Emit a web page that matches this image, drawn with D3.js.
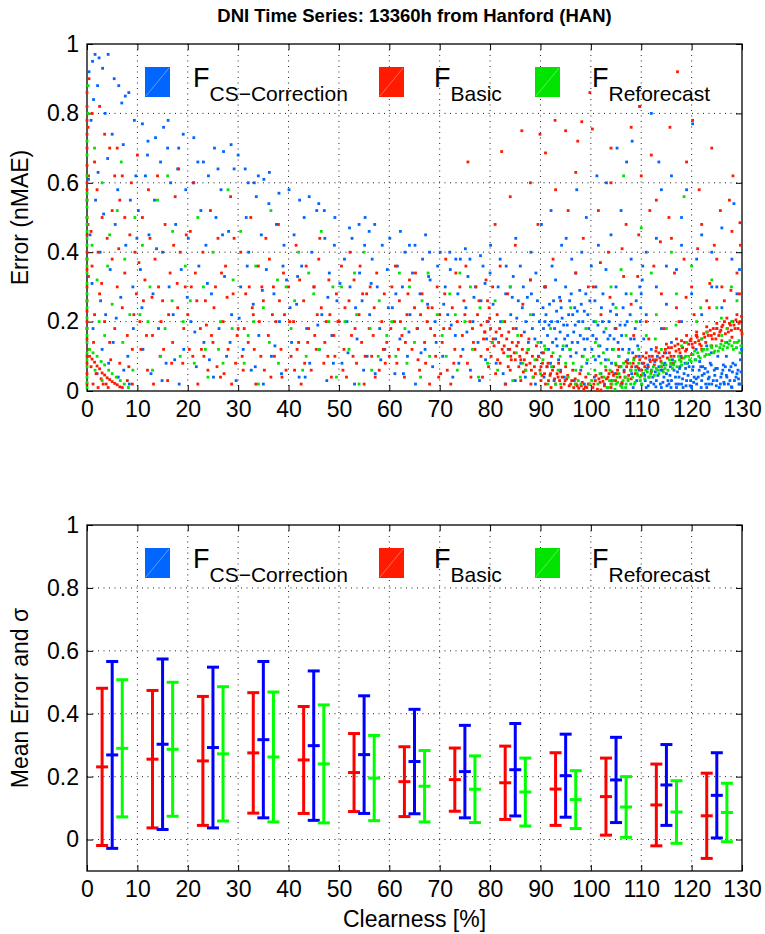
<!DOCTYPE html>
<html>
<head>
<meta charset="utf-8">
<script src="https://cdn.jsdelivr.net/npm/d3@7"></script>
<style>
  body { margin: 0; background: #fff; }
  text { font-family: "Liberation Sans", Arial, Helvetica, sans-serif; fill: #000; }
</style>
</head>
<body>
<svg id="fig" width="765" height="934"></svg>
<script>
// ---------- data ----------
const titleText = "DNI Time Series: 13360h from Hanford (HAN)";
const seriesKeys = ["CS\u2212Correction", "Basic", "Reforecast"];
const xTicks = [0, 10, 20, 30, 40, 50, 60, 70, 80, 90, 100, 110, 120, 130];
const yTicks = [0, 0.2, 0.4, 0.6, 0.8, 1];
const yTickLabels = ["0", "0.2", "0.4", "0.6", "0.8", "1"];

// clearness bins (centre of each 10 % bin)
const binCenters = [5, 15, 25, 35, 45, 55, 65, 75, 85, 95, 105, 115, 125];
const meanCS    = [0.269, 0.303, 0.2925, 0.3175, 0.2985, 0.270, 0.248, 0.216, 0.222, 0.203, 0.1895, 0.1735, 0.1405];
const sigmaCS   = [0.297, 0.271, 0.2555, 0.2485, 0.2375, 0.187, 0.166, 0.147, 0.147, 0.132, 0.1355, 0.1285, 0.1355];
const meanBasic = [0.231, 0.2555, 0.250, 0.2755, 0.253, 0.213, 0.184, 0.1905, 0.1805, 0.1605, 0.1365, 0.110, 0.0755];
const sigmaBasic= [0.250, 0.2185, 0.205, 0.1915, 0.170, 0.124, 0.111, 0.1005, 0.1165, 0.1155, 0.1225, 0.130, 0.1355];
const meanRef   = [0.290, 0.287, 0.2725, 0.2625, 0.2405, 0.1955, 0.1695, 0.160, 0.151, 0.127, 0.1035, 0.0875, 0.086];
const sigmaRef  = [0.218, 0.213, 0.2135, 0.2065, 0.1875, 0.1355, 0.1135, 0.106, 0.108, 0.092, 0.0965, 0.0995, 0.093];

// per-hour error samples: [clearness %, nMAE]
const errCS = [
[0.4,.92],[1.1,.95],[1.6,.97],[2.4,.96],[3.1,.93],[4.2,.97],[5.4,.90],[6.3,.88],[7.6,.85],[8.3,.86],[6.9,.83],[2.1,.88],[1.3,.84],[3.6,.80],[9.4,.78],[5.0,.74],[0.8,.78],
[0.3,.61],[0.6,.45],[1.0,.31],[1.7,.55],[2.2,.63],[2.6,.40],[3.3,.51],[3.7,.22],[4.1,.67],[4.6,.35],[5.2,.14],[5.6,.48],[6.1,.58],[6.7,.27],[7.2,.71],[7.7,.42],[8.1,.10],[8.6,.55],[9.1,.30],[9.7,.62],[2.0,.05],[4.3,.08],[6.2,.04],[8.4,.02],[9.2,.18],[1.2,.18],[3.0,.12],
[11.0,.77],[12.1,.72],[13.6,.73],[15.2,.76],[16.1,.78],[18.2,.70],[19.1,.74],[10.2,.52],[10.6,.35],[11.1,.12],[11.6,.62],[12.3,.45],[12.7,.05],[13.1,.28],[13.4,.55],[14.2,.18],[14.6,.66],[15.0,.40],[15.7,.08],[16.3,.30],[16.6,.60],[17.1,.22],[17.6,.48],[18.3,.02],[18.7,.35],[19.2,.12],[19.6,.58],[12.0,.68],[16.0,.70],[18.0,.64],
[21.2,.73],[23.1,.66],[25.3,.70],[27.1,.69],[28.6,.71],[20.1,.44],[20.6,.20],[21.1,.60],[21.7,.07],[22.2,.36],[22.6,.52],[23.2,.14],[23.6,.42],[24.1,.62],[24.7,.28],[25.1,.04],[25.6,.50],[26.2,.18],[26.6,.58],[27.3,.33],[27.7,.10],[28.1,.46],[28.7,.22],[29.2,.64],[29.6,.03],[22.0,.66],[26.0,.64],
[30.0,.68],[31.4,.64],[33.2,.60],[35.1,.61],[36.2,.63],[38.1,.57],[30.5,.30],[31.0,.12],[31.6,.50],[32.1,.40],[32.6,.06],[33.0,.25],[33.6,.56],[34.1,.16],[34.6,.45],[35.0,.02],[35.6,.35],[36.1,.54],[36.6,.10],[37.1,.28],[37.6,.48],[38.2,.20],[38.6,.05],[39.1,.42],[39.6,.32],[34.0,.62],[32.0,.60],
[40.1,.58],[42.2,.55],[44.1,.56],[47.1,.52],[49.2,.50],[40.6,.14],[41.1,.45],[41.6,.25],[42.1,.04],[42.6,.36],[43.1,.50],[43.6,.18],[44.2,.08],[44.6,.40],[45.1,.30],[45.6,.52],[46.1,.12],[46.6,.22],[47.2,.44],[47.6,.03],[48.1,.34],[48.6,.16],[49.1,.42],[49.6,.26],[46.0,.54],
[52.1,.47],[55.2,.50],[57.1,.48],[50.6,.08],[51.1,.38],[51.6,.20],[52.2,.30],[52.6,.44],[53.1,.02],[53.6,.15],[54.1,.34],[54.6,.26],[55.1,.42],[55.6,.10],[56.1,.22],[56.6,.38],[57.2,.05],[57.6,.30],[58.1,.18],[58.6,.42],[59.1,.12],[59.6,.35],[56.0,.46],[54.0,.48],
[60.1,.44],[62.2,.46],[65.1,.42],[67.2,.45],[60.6,.24],[61.1,.05],[61.6,.36],[62.1,.15],[62.6,.30],[63.1,.40],[63.6,.10],[64.1,.22],[64.6,.34],[65.2,.02],[65.6,.18],[66.1,.28],[66.6,.38],[67.1,.12],[67.6,.25],[68.1,.32],[68.6,.07],[69.1,.20],[69.6,.36],[64.0,.42],[68.0,.40],
[70.1,.40],[73.2,.38],[75.1,.41],[78.1,.39],[70.6,.10],[71.1,.30],[71.6,.22],[72.1,.35],[72.6,.04],[73.1,.16],[73.6,.28],[74.1,.38],[74.6,.12],[75.2,.24],[75.6,.33],[76.1,.06],[76.6,.20],[77.1,.30],[77.6,.14],[78.2,.26],[78.6,.36],[79.1,.09],[79.6,.20],[72.0,.40],[76.0,.38],[79.0,.31],
[2.7,.26],[5.8,.21],[7.3,.06],[9.9,.44],[10.9,.24],[13.8,.41],[14.9,.03],[17.4,.09],[19.9,.27],[21.4,.17],[23.9,.31],[24.3,.09],[26.9,.45],[28.4,.14],[30.2,.21],[31.8,.36],[33.4,.07],[34.8,.29],[37.3,.13],[38.9,.36],[40.3,.24],[41.8,.33],[43.3,.04],[45.8,.19],[47.8,.27],[48.9,.08],[50.2,.31],[51.8,.11],[53.3,.24],[54.9,.06],[56.4,.31],[58.3,.09],[59.8,.24],[61.3,.28],[62.8,.05],[63.9,.17],[66.3,.11],[67.8,.33],[69.3,.14],[70.8,.25],[72.3,.19],[73.8,.08],[75.4,.17],[76.8,.27],[77.9,.03],[79.3,.15],
[80.1,.42],[83.2,.36],[85.1,.44],[88.1,.40],[80.6,.25],[81.1,.15],[81.6,.30],[82.1,.20],[82.6,.05],[83.1,.28],[83.6,.12],[84.1,.22],[84.6,.33],[85.2,.18],[85.6,.26],[86.1,.08],[86.6,.30],[87.1,.20],[87.6,.14],[88.2,.28],[88.6,.22],[89.1,.34],[89.6,.10],[80.0,.34],[82.0,.38],[84.0,.30],[86.0,.36],[88.0,.32],[81.2,.08],[83.0,.02],[85.0,.03],[87.0,.04],[89.0,.02],[84.4,.27],[86.4,.24],[88.4,.18],[89.4,.26],
[90.2,.48],[92.1,.52],[95.1,.44],[97.2,.58],[99.1,.50],[90.6,.18],[91.1,.22],[91.6,.12],[92.2,.20],[92.6,.26],[93.1,.15],[93.6,.09],[94.1,.24],[94.6,.19],[95.2,.13],[95.6,.22],[96.1,.28],[96.6,.17],[97.1,.11],[97.6,.20],[98.1,.25],[98.6,.15],[99.2,.08],[99.6,.18],[90.1,.14],[91.0,.30],[92.0,.08],[93.0,.32],[94.0,.06],[95.0,.30],[96.0,.10],[97.0,.34],[98.0,.06],[99.0,.28],[91.4,.16],[93.4,.20],[95.4,.16],[97.4,.14],[99.4,.22],[92.4,.14],[94.4,.12],[96.4,.22],[98.4,.20],[90.5,.24],[96.2,.38],[94.2,.42],[98.2,.40],[92.3,.36],[93.8,.27],[95.8,.26],[97.8,.29],[91.8,.25],[90.8,.30],[93.2,.23],[96.8,.24],[98.8,.12],
[85.3,.21],[86.8,.17],[87.4,.27],[88.9,.15],[89.8,.20],[90.3,.11],[90.9,.20],[91.3,.07],[91.7,.19],[92.8,.18],[93.3,.13],[93.9,.17],[94.3,.21],[94.8,.15],[95.3,.19],[95.9,.12],[96.3,.14],[96.9,.19],[97.3,.23],[97.9,.16],[98.3,.10],[98.7,.23],[99.3,.15],[99.8,.26],[100.4,.16],[100.9,.09],[101.4,.19],[101.8,.13],[102.3,.20],[102.9,.09],[103.4,.15],[103.9,.23],[104.3,.12],[104.8,.18],[105.4,.14],[105.9,.07],[106.3,.12],[106.8,.19],[107.3,.09],[107.9,.15],[108.3,.11],[108.9,.07],[109.3,.13],[109.6,.06],[90.7,.04],[92.7,.03],[94.7,.04],[96.7,.03],[98.7,.02],[100.7,.04],[102.7,.02],[104.7,.05],
[100.1,.36],[101.2,.62],[103.1,.60],[105.2,.70],[107.1,.66],[108.2,.72],[100.6,.20],[101.1,.15],[101.6,.10],[102.1,.24],[102.6,.17],[103.2,.12],[103.6,.20],[104.1,.08],[104.6,.15],[105.1,.22],[105.6,.10],[106.1,.16],[106.6,.06],[107.2,.20],[107.6,.12],[108.1,.05],[108.6,.15],[109.1,.03],[109.6,.10],[100.2,.12],[101.0,.30],[103.0,.35],[105.0,.30],[107.0,.28],[109.0,.26],[101.5,.42],[104.0,.45],[106.0,.52],[108.0,.38],[102.0,.05],[104.2,.03],[106.2,.02],[108.4,.01],[100.8,.26],[102.4,.28],[104.4,.25],[106.4,.24],[108.8,.18],[103.8,.16],[105.8,.19],[107.8,.22],[109.8,.20],[109.9,.24],[110.0,.28],[110.2,.32],[110.3,.36],[109.7,.30],
[110.1,.02],[110.5,.05],[111.0,.01],[111.5,.04],[112.0,.06],[112.5,.02],[113.0,.03],[113.5,.07],[114.0,.01],[114.5,.04],[115.0,.05],[115.5,.02],[116.0,.03],[116.5,.06],[117.0,.01],[117.5,.04],[118.0,.02],[118.5,.05],[119.0,.03],[119.5,.07],[120.0,.01],[120.5,.04],[121.0,.02],[121.5,.06],[122.0,.03],[122.5,.05],[123.0,.01],[123.5,.04],[124.0,.02],[124.5,.06],[125.0,.03],[125.5,.01],[126.0,.05],[126.5,.02],[127.0,.04],[127.5,.06],[128.0,.01],[128.5,.03],[129.0,.05],[129.5,.02],
[110.2,.08],[111.7,.09],[113.2,.10],[114.7,.08],[116.2,.09],[117.7,.07],[119.2,.08],[120.7,.09],[122.2,.07],[123.7,.08],[125.2,.10],[126.7,.07],[128.2,.08],[129.7,.09],[110.8,.03],[112.3,.04],[113.8,.02],[115.3,.03],[116.8,.04],[118.3,.01],[119.8,.03],[121.3,.04],[122.8,.02],[124.3,.03],[125.8,.04],[127.3,.02],[128.8,.04],
[111.2,.065],[112.8,.055],[114.2,.06],[115.8,.07],[117.2,.055],[118.8,.065],[120.2,.06],[121.8,.07],[123.2,.055],[124.8,.065],[126.2,.06],[127.8,.07],[129.2,.06],[111.4,.015],[112.9,.012],[114.3,.025],[115.9,.01],[117.4,.02],[118.9,.015],[120.4,.025],[121.9,.01],[123.4,.02],[124.9,.015],[126.4,.025],[127.9,.012],[129.4,.02],
[110.7,.045],[111.3,.075],[111.9,.025],[112.7,.085],[113.3,.045],[113.9,.06],[114.6,.075],[115.1,.015],[115.7,.045],[116.4,.08],[116.9,.02],[117.6,.065],[118.2,.035],[118.7,.08],[119.3,.045],[119.7,.015],[120.3,.07],[120.9,.035],[121.6,.085],[122.1,.045],[122.7,.065],[123.3,.035],[123.9,.075],[124.6,.045],[125.1,.065],[125.7,.02],[126.3,.075],[126.9,.045],[127.6,.03],[128.1,.055],[128.7,.075],[129.3,.035],[129.8,.055],[114.9,.11],[117.9,.10],[120.9,.12],[123.9,.11],[126.9,.10],[129.9,.12],
[110.5,.15],[111.0,.22],[112.0,.12],[113.0,.30],[114.0,.18],[115.0,.25],[116.0,.14],[117.0,.35],[118.0,.20],[119.0,.12],[120.0,.28],[121.0,.16],[122.0,.22],[123.0,.13],[124.0,.30],[125.0,.18],[126.0,.24],[127.0,.14],[128.0,.20],[129.0,.28],[111.0,.40],[113.0,.44],[115.0,.36],[118.0,.42],[121.0,.38],[125.0,.30],[128.0,.38],
[109.7,.82],[112.0,.80],[114.0,.58],[116.0,.62],[118.0,.50],[120.2,.77],[122.0,.45],[124.0,.40],[126.0,.47],[128.4,.54],[129.5,.35],[113.5,.66],[119.0,.58]
];

const errBasic = [
[0,.02],[0,.05],[0,.10],[0,.15],[0,.20],[0,.26],[0,.30],[0,.35],[0,.40],[0,.45],[0,.50],[0,.55],[0,.60],[0,.65],[0,.70],[0,.74],[0,.78],[0,.82],[0,.86],[0.2,.12],[0.3,.33],[0.2,.48],[0.3,.62],[0.2,.76],[0.4,.90],[0,.08],[0,.18],[0,.23],[0,.38],[0,.58],
[0.5,.10],[1.0,.092],[1.5,.083],[2.0,.072],[2.5,.064],[3.0,.052],[3.5,.046],[4.0,.038],[4.5,.033],[5.0,.027],[5.5,.022],[6.0,.018],[6.5,.012],[1.2,.02],[2.2,.01],[3.2,.02],[4.2,.01],[7.0,.01],[8.0,.03],[9.0,.02],[0.8,.07],[1.8,.05],[2.8,.035],[3.8,.02],
[1.0,.80],[2.5,.82],[3.5,.74],[1.5,.66],[4.5,.70],[2.0,.58],[5.5,.62],[3.0,.50],[6.5,.55],[4.0,.44],[7.5,.50],[5.0,.38],[8.5,.45],[6.0,.30],[9.5,.40],[1.0,.36],[2.5,.28],[7.0,.24],[3.5,.20],[8.0,.16],[4.5,.14],[9.0,.12],[5.5,.18],[6.5,.08],[1.5,.22],[7.5,.34],[8.8,.60],[9.8,.28],[0.8,.46],[2.2,.40],[5.0,.52],[6.0,.70],[7.0,.62],
[10.0,.68],[10.5,.20],[11.0,.50],[11.5,.32],[12.0,.06],[12.5,.44],[13.0,.16],[13.5,.38],[14.0,.62],[14.5,.10],[15.0,.26],[15.5,.48],[16.0,.03],[16.5,.34],[17.0,.14],[17.5,.56],[18.0,.24],[18.5,.40],[19.0,.08],[19.5,.30],[11.2,.26],[13.2,.02],[15.2,.12],[17.2,.42],[19.2,.18],[12.2,.58],[16.2,.22],[18.2,.64],[10.7,.12],[14.2,.30],
[20.0,.22],[20.5,.46],[21.0,.10],[21.5,.34],[22.0,.02],[22.5,.18],[23.0,.40],[23.5,.26],[24.0,.06],[24.5,.52],[25.0,.14],[25.5,.30],[26.0,.44],[26.5,.04],[27.0,.20],[27.5,.36],[28.0,.12],[28.5,.56],[29.0,.28],[29.5,.08],[21.2,.60],[23.2,.10],[25.2,.24],[27.2,.05],[29.2,.44],[20.7,.30],[22.7,.12],[24.7,.16],[26.7,.34],[28.7,.02],
[30.0,.18],[30.5,.40],[31.0,.06],[31.5,.28],[32.0,.14],[32.5,.50],[33.0,.22],[33.5,.02],[34.0,.36],[34.5,.10],[35.0,.26],[35.5,.44],[36.0,.16],[36.5,.04],[37.0,.30],[37.5,.20],[38.0,.48],[38.5,.12],[39.0,.34],[39.5,.06],[31.2,.18],[33.2,.12],[35.2,.06],[37.2,.10],[39.2,.22],[32.2,.30],[36.2,.38],[38.2,.26],[34.2,.20],
[40.0,.30],[40.5,.10],[41.0,.20],[41.5,.42],[42.0,.14],[42.5,.02],[43.0,.26],[43.5,.36],[44.0,.18],[44.5,.06],[45.0,.30],[45.5,.12],[46.0,.38],[46.5,.24],[47.0,.08],[47.5,.20],[48.0,.32],[48.5,.04],[49.0,.16],[49.5,.28],[41.2,.06],[43.2,.08],[45.2,.16],[47.2,.14],[49.2,.10],[42.2,.32],[46.2,.44],[48.2,.22],
[50.0,.20],[50.5,.36],[51.0,.12],[51.5,.04],[52.0,.26],[52.5,.16],[53.0,.32],[53.5,.08],[54.0,.22],[54.5,.14],[55.0,.02],[55.5,.28],[56.0,.18],[56.5,.10],[57.0,.24],[57.5,.34],[58.0,.06],[58.5,.20],[59.0,.28],[59.5,.14],[51.2,.24],[53.2,.18],[55.2,.10],[57.2,.04],[59.2,.08],[52.2,.40],[56.2,.30],[54.2,.36],
[60.0,.10],[60.5,.30],[61.0,.20],[61.5,.08],[62.0,.26],[62.5,.16],[63.0,.04],[63.5,.22],[64.0,.32],[64.5,.12],[65.0,.24],[65.5,.18],[66.0,.06],[66.5,.28],[67.0,.14],[67.5,.20],[68.0,.02],[68.5,.24],[69.0,.16],[69.5,.30],[61.2,.36],[63.2,.14],[65.2,.34],[67.2,.08],[69.2,.10],[62.2,.20],[66.2,.22],[68.2,.18],
[70.0,.22],[70.5,.14],[71.0,.28],[71.5,.06],[72.0,.18],[72.5,.24],[73.0,.12],[73.5,.20],[74.0,.30],[74.5,.16],[75.0,.22],[75.5,.08],[76.0,.20],[76.5,.18],[77.0,.12],[77.5,.22],[78.5,.04],[79.0,.17],[79.5,.26],[71.2,.38],[73.2,.34],[75.2,.36],[77.2,.30],[79.2,.32],[70.2,.05],[72.2,.02],[74.2,.10],[76.2,.04],[78.2,.10],[75.6,.66],
[1.3,.14],[2.9,.31],[4.7,.09],[6.3,.41],[8.3,.07],[9.3,.22],[10.3,.37],[11.8,.16],[12.9,.27],[14.7,.20],[16.8,.08],[17.9,.31],[19.7,.45],[20.3,.12],[21.8,.26],[23.7,.19],[25.8,.07],[27.8,.27],[29.8,.16],[30.8,.10],[32.8,.24],[34.7,.30],[36.8,.22],[38.7,.04],[40.2,.20],[41.7,.12],[43.8,.14],[45.7,.22],[47.8,.10],[49.8,.20],[50.8,.06],[52.8,.10],[54.7,.28],[56.8,.16],[58.8,.12],[60.3,.18],[61.8,.12],[63.7,.28],[65.7,.09],[67.7,.24],[69.8,.04],[70.8,.18],[72.8,.08],[74.8,.26],[76.7,.14],[77.8,.26],[79.7,.07],
[78.2,.19],[78.9,.17],[79.4,.20],[80.1,.18],[80.6,.15],[81.2,.17],[81.7,.14],[82.3,.16],[82.8,.13],[83.3,.15],[83.9,.12],[84.4,.14],[84.8,.11],[85.3,.13],[85.9,.10],[86.4,.12],[86.8,.09],[87.3,.11],[87.9,.08],[88.4,.10],[88.8,.07],[89.3,.09],[89.9,.06],[90.4,.08],[90.8,.05],[91.3,.07],[91.9,.045],[92.4,.06],[92.8,.035],[93.3,.05],[93.8,.03],[94.3,.04],[94.7,.02],[95.2,.035],[95.7,.015],[96.2,.03],[96.6,.01],[97.1,.02],[97.6,.008],[98.1,.015],[98.6,.005],[99.2,.01],
[78.7,.15],[79.9,.21],[80.4,.14],[81.9,.18],[82.4,.12],[83.7,.17],[84.1,.10],[85.6,.14],[86.1,.09],[87.6,.12],[88.2,.06],[89.6,.10],[90.1,.07],[91.5,.08],[92.0,.05],[92.6,.07],[93.5,.04],[94.0,.055],[94.9,.03],[95.4,.045],[96.0,.02],[96.9,.035],[97.3,.015],[98.3,.025],[98.9,.012],[99.5,.02],
[80.2,.10],[81.1,.05],[82.0,.08],[83.1,.02],[84.0,.06],[85.0,.09],[86.1,.03],[87.0,.06],[88.1,.02],[89.0,.05],[90.1,.03],[91.0,.02],[92.1,.01],[93.0,.02],[94.1,.01],[80.8,.13],[82.7,.11],[84.2,.09],[85.7,.07],[87.2,.075],[88.6,.04],[90.3,.045],[91.6,.03],[79.5,.12],[81.5,.09],[83.6,.07],[86.6,.055],
[79.8,.24],[81.4,.22],[82.9,.20],[84.6,.18],[86.2,.16],[87.7,.15],[89.2,.13],[90.6,.11],[92.2,.10],[93.6,.08],[95.0,.07],[96.4,.06],[97.8,.05],[99.0,.04],
[80.5,.30],[82.0,.36],[83.5,.28],[85.0,.42],[86.5,.25],[88.0,.32],[89.5,.48],[91.0,.30],[92.5,.38],[94.0,.26],[95.5,.52],[97.0,.34],[98.5,.44],[99.5,.30],[84.0,.56],[88.0,.60],[93.0,.58],[97.0,.63],[81.0,.48],
[86.3,.75],[92.9,.78],[89.9,.74],[95.0,.75],[82.3,.69],[97.4,.72],[99.8,.86],[100.3,.755],[108.0,.76],[117.2,.92],[115.7,.76],[120.2,.78],[109.7,.82],[98.2,.776],[91.0,.686],[128.2,.62],[129.6,.485],[104.0,.70],[112.0,.68],[124.0,.70],
[99.8,.02],[100.4,.01],[100.9,.03],[101.3,.005],[101.8,.025],[102.2,.04],[102.7,.015],[103.1,.035],[103.6,.05],[104.0,.02],[104.5,.045],[104.9,.03],[105.3,.06],[105.8,.04],[106.2,.025],[106.6,.055],[107.1,.07],[107.5,.045],[107.9,.06],[108.4,.08],[108.8,.05],[109.2,.07],[109.7,.09],[110.1,.06],[110.5,.08],[110.9,.095],[111.4,.07],[111.8,.085],[112.2,.10],[112.6,.075],[113.0,.09],[113.5,.11],[113.9,.085],[114.3,.10],[114.8,.12],[115.2,.095],[115.6,.11],[116.0,.125],[116.5,.10],[116.9,.115],[117.3,.135],[117.7,.11],[118.2,.125],[118.6,.14],[119.0,.12],[119.4,.135],[119.9,.15],[120.3,.125],[120.7,.14],[121.1,.155],[121.6,.135],[122.0,.15],[122.4,.165],[122.8,.14],[123.3,.16],[123.7,.175],[124.1,.15],[124.5,.165],[125.0,.18],[125.4,.16],[125.8,.175],[126.2,.19],[126.7,.165],[127.1,.18],[127.5,.195],[127.9,.175],[128.4,.19],[128.8,.205],[129.2,.18],[129.6,.20],[129.9,.215],
[101.0,.045],[103.0,.06],[105.0,.075],[107.0,.085],[109.0,.10],[111.0,.11],[113.0,.125],[115.0,.135],[117.0,.15],[119.0,.16],[121.0,.17],[123.0,.185],[125.0,.195],[127.0,.21],[129.0,.22],[102.0,.003],[104.0,.01],[106.0,.02],[108.0,.035],[110.0,.045],[112.0,.055],[114.0,.07],[116.0,.08],[118.0,.095],[120.0,.105],[122.0,.12],[124.0,.13],[126.0,.145],[128.0,.155],[130.0,.165],
[100.6,.02],[101.6,.035],[102.4,.028],[103.4,.04],[104.2,.055],[105.1,.05],[105.6,.07],[106.8,.04],[107.3,.08],[108.1,.07],[108.6,.095],[109.5,.065],[110.3,.10],[110.7,.07],[111.6,.10],[112.4,.09],[112.9,.115],[113.7,.095],[114.6,.11],[115.4,.125],[115.9,.10],[116.7,.13],[117.5,.12],[118.0,.145],[118.8,.115],[119.7,.145],[120.1,.135],[120.9,.16],[121.4,.145],[121.9,.13],[122.6,.155],[123.1,.17],[123.9,.16],[124.3,.18],[124.8,.15],[125.6,.17],[126.0,.185],[126.5,.20],[127.3,.17],[127.7,.19],[128.2,.20],[128.6,.18],[129.4,.195],[129.8,.175],
[100.5,.30],[102.0,.22],[103.5,.40],[105.0,.18],[106.5,.33],[108.0,.25],[109.5,.45],[111.0,.20],[112.5,.36],[114.0,.28],[115.5,.50],[117.0,.24],[118.5,.38],[120.0,.30],[121.5,.58],[123.0,.26],[124.5,.42],[126.0,.30],[127.5,.55],[129.0,.34],[101.5,.52],[104.0,.60],[107.0,.48],[110.0,.62],[113.0,.55],[116.0,.44],[119.0,.66],[122.0,.48],[125.0,.38],[128.0,.46],[105.5,.12],[108.5,.16],[111.5,.15],[114.5,.18],[117.5,.20],[120.5,.22],[123.5,.24],[126.5,.26],[129.5,.28],
[101.9,.37],[103.8,.27],[106.2,.41],[109.3,.33],[111.7,.52],[113.8,.43],[116.6,.34],[118.9,.27],[121.2,.41],[123.6,.31],[125.7,.52],[127.8,.29],[129.7,.42]
];

const errReforecast = [
[0,.01],[0,.04],[0,.07],[0,.11],[0,.14],[0,.18],[0,.21],[0,.24],[0,.28],[0,.31],[0,.34],[0,.38],[0,.42],[0,.46],[0,.50],[0,.53],[0,.57],[0,.62],[0,.68],[0,.72],[0.2,.80],[0.2,.88],[0,.025],[0,.09],[0,.16],[0,.26],[0,.36],[0,.44],[0,.48],[0,.55],
[0.5,.12],[1.2,.11],[2.0,.10],[2.8,.085],[3.5,.075],[4.3,.06],[5.0,.05],[5.8,.04],[6.6,.03],[7.4,.02],[8.2,.01],[1.6,.06],[3.0,.03],
[1.5,.70],[3.0,.60],[4.5,.45],[2.0,.32],[6.0,.52],[7.5,.38],[8.5,.22],[9.5,.50],[5.0,.25],[3.5,.16],[1.0,.42],[6.8,.66],
[11.0,.42],[12.5,.30],[14.0,.55],[15.5,.18],[17.0,.46],[18.5,.10],[19.5,.36],[13.0,.06],[16.0,.62],[10.5,.22],
[20.5,.26],[22.0,.50],[23.5,.12],[25.0,.40],[26.5,.20],[28.0,.58],[29.0,.32],[24.0,.04],[27.0,.08],
[30.5,.46],[32.0,.16],[33.5,.36],[35.0,.24],[36.5,.52],[38.0,.08],[39.5,.30],[34.0,.02],
[40.5,.18],[42.0,.40],[43.5,.10],[45.0,.28],[46.5,.46],[48.0,.20],[49.5,.04],[44.0,.34],
[50.5,.30],[52.0,.12],[53.5,.22],[55.0,.40],[56.5,.06],[58.0,.26],[59.5,.16],[54.0,.02],
[60.5,.20],[62.0,.34],[63.5,.08],[65.0,.14],[66.5,.26],[68.0,.10],[69.5,.22],[64.0,.30],
[70.5,.16],[72.0,.28],[73.5,.06],[75.0,.20],[76.5,.12],[78.0,.24],[79.5,.08],[74.0,.34],
[2.4,.20],[4.1,.36],[7.1,.14],[9.1,.06],[12.1,.20],[14.6,.10],[16.9,.26],[19.1,.20],[21.3,.08],[23.1,.30],[26.1,.12],[28.8,.18],[31.2,.08],[33.1,.20],[36.2,.14],[37.8,.32],[41.2,.26],[42.8,.06],[46.1,.12],[48.8,.30],[51.2,.20],[53.1,.34],[56.2,.18],[57.8,.10],[61.3,.10],[63.1,.18],[66.2,.04],[67.7,.34],[71.3,.10],[73.1,.22],[76.1,.30],[77.7,.04],
[80.5,.14],[81.5,.06],[82.5,.20],[83.5,.10],[84.5,.03],[85.5,.16],[86.5,.08],[87.5,.12],[88.5,.04],[89.5,.14],[90.5,.09],[91.5,.02],[92.5,.11],[93.5,.06],[94.5,.13],[95.5,.04],[96.5,.08],[97.5,.03],[98.5,.10],[99.5,.05],[81.0,.26],[84.0,.30],[88.0,.22],[92.0,.18],[96.0,.24],[99.0,.18],[86.0,.04],[90.0,.05],[94.0,.02],[98.0,.02],[91.0,.12],[95.0,.08],[97.0,.06],[93.0,.02],[99.8,.02],
[85.2,.11],[87.1,.06],[88.9,.09],[90.8,.13],[92.2,.07],[93.9,.10],[95.8,.12],[96.9,.02],[98.2,.07],[99.3,.09],[100.9,.14],[101.8,.05],[102.9,.07],[103.7,.03],[104.9,.08],[105.2,.04],[106.0,.07],[107.0,.02],[107.8,.08],[108.9,.06],[109.5,.08],[110.1,.02],[110.9,.06],[111.9,.05],[112.4,.07],[113.3,.06],[114.1,.08],[114.7,.065],[115.6,.09],[116.4,.075],[117.4,.10],[117.9,.085],[118.8,.10],[119.6,.09],[120.6,.115],[121.4,.10],[122.4,.12],[122.9,.105],[123.8,.13],[124.6,.115],[125.6,.125],[126.4,.13],[127.4,.135],[128.3,.12],[129.1,.14],[129.6,.11],[112.8,.15],[116.9,.19],[121.8,.24],[125.9,.21],[127.9,.30],
[100.2,.03],[100.8,.06],[101.4,.02],[102.0,.08],[102.6,.04],[103.2,.01],[103.8,.06],[104.4,.03],[105.0,.02],[105.6,.05],[106.2,.01],[106.8,.04],[107.4,.03],[108.0,.06],[108.6,.02],[109.2,.05],[109.8,.04],[100.5,.10],[101.5,.13],[102.5,.11],[103.5,.09],[104.5,.12],[105.5,.10],[106.5,.08],[107.5,.11],[108.5,.09],[109.5,.12],[101.0,.20],[103.0,.18],[105.0,.24],[107.0,.16],[109.0,.20],[104.0,.30],[106.0,.35],[108.0,.28],
[103.5,.01],[104.2,.02],[104.8,.005],[105.3,.025],[105.9,.015],[106.4,.03],[106.9,.01],[107.4,.035],[107.9,.02],[108.3,.04],[108.8,.025],[109.3,.045],[109.8,.03],[110.3,.05],[110.7,.035],[111.2,.055],[111.6,.04],[112.1,.06],[112.6,.045],[113.0,.065],[113.5,.05],[113.9,.07],[114.4,.055],[114.9,.075],[115.3,.06],[115.8,.08],[116.2,.065],[116.7,.085],[117.1,.07],[117.6,.09],[118.0,.075],[118.5,.095],[119.0,.08],[119.4,.10],[119.9,.085],[120.3,.105],[120.8,.09],[121.2,.11],[121.7,.095],[122.1,.115],[122.6,.10],[123.1,.12],[123.5,.105],[124.0,.125],[124.4,.11],[124.9,.13],[125.3,.115],[125.8,.135],[126.2,.12],[126.7,.14],[127.1,.125],[127.6,.145],[128.0,.13],[128.5,.14],[128.9,.125],[129.4,.145],[129.8,.13],
[111.0,.16],[113.0,.22],[115.0,.18],[117.0,.28],[119.0,.14],[121.0,.20],[123.0,.17],[125.0,.24],[127.0,.18],[129.0,.26],[112.0,.34],[116.0,.40],[120.0,.36],[124.0,.32],[114.0,.12],[118.0,.13],[122.0,.15],[126.0,.16],[128.0,.20],[110.0,.47],[118.5,.56],[106.5,.62]
];

// ---------- layout & style ----------
const W = 765, H = 934;
const frameLeft = 87, frameRight = 742;
const panels = [
  { top: 44,  bottom: 391, yDomain: [0, 1],    ylabel: "Error (nMAE)" },
  { top: 525, bottom: 871, yDomain: [-0.1, 1], ylabel: "Mean Error and \u03c3", xlabel: "Clearness [%]" }
];
const scatterColors = ["#0066ff", "#ff1a00", "#00e400"];
const barColors = ["#0000ff", "#ff0000", "#00ff00"];
const barOffsets = [0, -2, 2];   // CS, Basic, Reforecast placed side by side in each bin
const TICK_FONT = 23, LABEL_FONT = 23;

const svg = d3.select("#fig");
svg.append("rect").attr("width", W).attr("height", H).attr("fill", "#fff");

svg.append("text")
  .attr("x", (frameLeft + frameRight) / 2).attr("y", 22)
  .attr("text-anchor", "middle")
  .style("font-size", "18.5px").style("font-weight", "bold")
  .text(titleText);

const x = d3.scaleLinear().domain([0, 130]).range([frameLeft, frameRight]);

function drawFrame(p, y) {
  const g = svg.append("g");
  // dotted grid
  const grid = g.append("g").attr("stroke", "#222").attr("stroke-width", 1)
    .attr("stroke-dasharray", "1,4.5");
  xTicks.slice(1, -1).forEach(t => {
    grid.append("line").attr("x1", x(t)).attr("x2", x(t)).attr("y1", p.top).attr("y2", p.bottom);
  });
  yTicks.filter(t => t > y.domain()[0] && t < 1).forEach(t => {
    grid.append("line").attr("x1", frameLeft).attr("x2", frameRight).attr("y1", y(t)).attr("y2", y(t));
  });

  // axes with inward ticks on every side
  const axB = d3.axisBottom(x).tickValues(xTicks).tickSize(-6).tickPadding(10).tickFormat(d3.format("d"));
  const axT = d3.axisTop(x).tickValues(xTicks).tickSize(-6).tickFormat("");
  const axL = d3.axisLeft(y).tickValues(yTicks).tickSize(-6).tickPadding(8).tickFormat((d, i) => yTickLabels[i]);
  const axR = d3.axisRight(y).tickValues(yTicks).tickSize(-6).tickFormat("");
  [[axB, `translate(0,${p.bottom})`], [axT, `translate(0,${p.top})`],
   [axL, `translate(${frameLeft},0)`], [axR, `translate(${frameRight},0)`]].forEach(([ax, tr]) => {
    const a = g.append("g").attr("transform", tr).call(ax);
    a.select(".domain").remove();
    a.selectAll("line").attr("stroke", "#000").attr("stroke-width", 1);
    a.selectAll("text").style("font-size", TICK_FONT + "px")
      .style("font-family", '"Liberation Sans", Arial, Helvetica, sans-serif').attr("fill", "#000");
  });

  g.append("rect").attr("x", frameLeft).attr("y", p.top)
    .attr("width", frameRight - frameLeft).attr("height", p.bottom - p.top)
    .attr("fill", "none").attr("stroke", "#000").attr("stroke-width", 1.3);

  svg.append("text")
    .attr("transform", `translate(28,${(p.top + p.bottom) / 2}) rotate(-90)`)
    .attr("text-anchor", "middle").style("font-size", LABEL_FONT + "px").text(p.ylabel);
  if (p.xlabel) {
    svg.append("text").attr("x", (frameLeft + frameRight) / 2).attr("y", 927)
      .attr("text-anchor", "middle").style("font-size", LABEL_FONT + "px").text(p.xlabel);
  }
}

function drawLegend(p) {
  const items = [
    { patch: 145, label: 193, color: scatterColors[0], key: seriesKeys[0] },
    { patch: 379, label: 434, color: scatterColors[1], key: seriesKeys[1] },
    { patch: 535, label: 592, color: scatterColors[2], key: seriesKeys[2] }
  ];
  const g = svg.append("g");
  items.forEach(it => {
    const py = p.top + 23;
    g.append("rect").attr("x", it.patch).attr("y", py).attr("width", 25).attr("height", 30)
      .attr("fill", it.color);
    g.append("line").attr("x1", it.patch + 1).attr("y1", py + 29).attr("x2", it.patch + 24).attr("y2", py + 1)
      .attr("stroke", "rgba(255,255,255,0.45)").attr("stroke-width", 0.8);
    const t = g.append("text").attr("x", it.label).attr("y", p.top + 43).style("font-size", "27px");
    t.append("tspan").text("F");
    t.append("tspan").attr("dy", 14).style("font-size", "21px").text(it.key);
  });
}

// ---------- top panel: scatter of errors ----------
{
  const p = panels[0];
  const y = d3.scaleLinear().domain(p.yDomain).range([p.bottom, p.top]);
  drawFrame(p, y);
  const s = 2.8;
  [errCS, errBasic, errReforecast].forEach((pts, i) => {
    svg.append("g").attr("fill", scatterColors[i])
      .selectAll("rect").data(pts).join("rect")
      .attr("x", d => x(d[0]) - s / 2).attr("y", d => y(d[1]) - s / 2)
      .attr("width", s).attr("height", s);
  });
  drawLegend(p);
}

// ---------- bottom panel: mean ± sigma per clearness bin ----------
{
  const p = panels[1];
  const y = d3.scaleLinear().domain(p.yDomain).range([p.bottom, p.top]);
  drawFrame(p, y);
  const series = [[meanCS, sigmaCS], [meanBasic, sigmaBasic], [meanRef, sigmaRef]];
  const order = [1, 0, 2];
  order.forEach(i => {
    const [m, sd] = series[i];
    const rows = binCenters.map((c, k) => ({ xc: c + barOffsets[i], m: m[k], s: sd[k] }));
    const g = svg.append("g").attr("stroke", barColors[i]).attr("stroke-width", 3).attr("fill", "none");
    const bars = g.selectAll("g").data(rows).join("g");
    const hw = 6;
    bars.append("line").attr("x1", d => x(d.xc)).attr("x2", d => x(d.xc))
      .attr("y1", d => y(d.m - d.s)).attr("y2", d => y(d.m + d.s));
    bars.append("line").attr("x1", d => x(d.xc) - hw).attr("x2", d => x(d.xc) + hw)
      .attr("y1", d => y(d.m + d.s)).attr("y2", d => y(d.m + d.s));
    bars.append("line").attr("x1", d => x(d.xc) - hw).attr("x2", d => x(d.xc) + hw)
      .attr("y1", d => y(d.m - d.s)).attr("y2", d => y(d.m - d.s));
    bars.append("line").attr("x1", d => x(d.xc) - hw).attr("x2", d => x(d.xc) + hw)
      .attr("y1", d => y(d.m)).attr("y2", d => y(d.m));
  });
  drawLegend(p);
}
</script>
</body>
</html>
